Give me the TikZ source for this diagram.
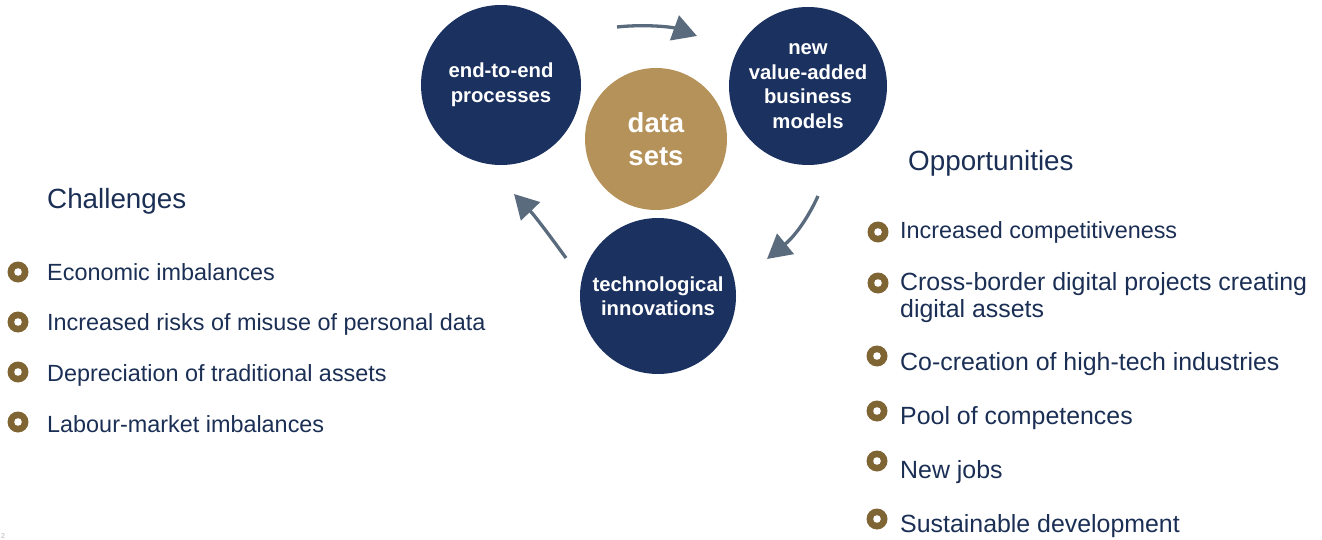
\documentclass[tikz,border=0pt]{standalone}
\usepackage{fontspec}
\setmainfont{Liberation Sans}
\usetikzlibrary{arrows.meta}
\definecolor{navy}{HTML}{1B3160}
\definecolor{gold}{HTML}{B59259}
\definecolor{slate}{HTML}{5B6B7E}
\definecolor{bulletbrown}{HTML}{7F6434}
\definecolor{txt}{HTML}{1B2F55}
\tikzset{
  bigcircle/.style={circle, fill=navy, text=white, inner sep=0pt, align=center,
    font=\fontsize{20.3}{24.5}\selectfont\bfseries},
  datacircle/.style={circle, fill=gold, text=white, inner sep=0pt, align=center,
    font=\fontsize{27.5}{33}\selectfont\bfseries},
  cyclearrow/.style={draw=slate, line width=3.3pt, -{Triangle[length=24pt,width=26pt]}},
  heading/.style={anchor=base west, text=txt, font=\fontsize{27.8}{32}\selectfont, inner sep=0pt},
  item/.style={anchor=base west, text=txt, font=\fontsize{23.4}{27}\selectfont, inner sep=0pt, align=left},
  bigitem/.style={item, font=\fontsize{24.9}{27}\selectfont},
  bulletring/.style={circle, fill=bulletbrown, minimum size=21pt, inner sep=0pt,
    path picture={\fill[white] (path picture bounding box.center) circle (3.8pt);}},
}
\begin{document}
\begin{tikzpicture}[x=1pt,y=-1pt]
\useasboundingbox (0,0) rectangle (1322,540);
% circles
\node[bigcircle, minimum size=160pt] (e2e) at (501,85) {end-to-end\\processes};
\node[bigcircle, minimum size=158pt] (nvm) at (808,86) {new\\value-added\\business\\models};
\node[datacircle, minimum size=142pt] (data) at (656,139) {data\\sets};
\node[bigcircle, minimum size=156pt] (tech) at (658,296) {technological\\innovations};
% arrows
\coordinate (a1s) at (617,27);
\coordinate (a1e) at (697,36);
\coordinate (a2s) at (818,196);
\coordinate (a2e) at (767,259);
\coordinate (a3s) at (566,258);
\coordinate (a3e) at (514,194);
\draw[cyclearrow] (a1s) .. controls (645,24) and (672,27) .. (a1e);
\draw[cyclearrow] (a2s) .. controls (808,218) and (795,236) .. (a2e);
\draw[cyclearrow] (a3s) .. controls (550,236) and (535,216) .. (a3e);
% headings
\node[heading] (chal) at (47,209) {Challenges};
\node[heading] (opp) at (908,171) {Opportunities};
% challenges
\node[bulletring] (cb1) at (18,272) {};
\node[bulletring] (cb2) at (18,322) {};
\node[bulletring] (cb3) at (18,372) {};
\node[bulletring] (cb4) at (18,422) {};
\node[item] (c1) at (47,280) {Economic imbalances};
\node[item] (c2) at (47,330) {Increased risks of misuse of personal data};
\node[item] (c3) at (47,381) {Depreciation of traditional assets};
\node[item] (c4) at (47,432) {Labour-market imbalances};
% opportunities
\node[bulletring] (ob1) at (878,232) {};
\node[bulletring] (ob2) at (878,283) {};
\node[bulletring] (ob3) at (877,356) {};
\node[bulletring] (ob4) at (877,411) {};
\node[bulletring] (ob5) at (877,461) {};
\node[bulletring] (ob6) at (877,519) {};
\node[item] (o1) at (900,238) {Increased competitiveness};
\node[bigitem] (o2) at (900,290.5) {Cross-border digital projects creating};
\node[bigitem] (o2b) at (900,317.5) {digital assets};
\node[bigitem] (o3) at (900,370.5) {Co-creation of high-tech industries};
\node[bigitem] (o4) at (900,424.5) {Pool of competences};
\node[bigitem] (o5) at (900,478.5) {New jobs};
\node[bigitem] (o6) at (900,532.5) {Sustainable development};
% page number
\node[anchor=base west, text=gray!60, font=\fontsize{7}{8}\selectfont, inner sep=0pt] (pg) at (1,538) {2};
\end{tikzpicture}
\end{document}
